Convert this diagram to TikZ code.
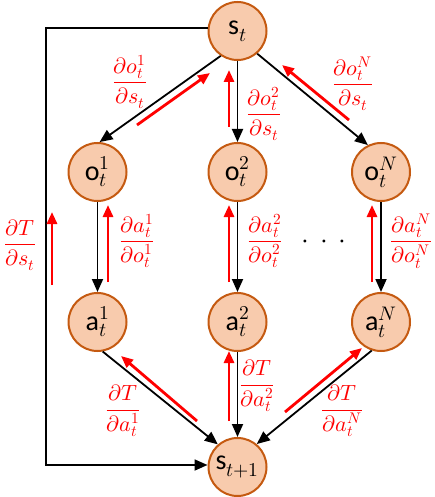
\documentclass[tikz,border=0pt]{standalone}
\usepackage{amsmath}
\usepackage{fontspec}
\usepackage{unicode-math}
\setmathfont{Latin Modern Math}
\newfontfamily\calibrifont{Carlito}
\usetikzlibrary{arrows.meta}
\definecolor{nodef}{HTML}{F8CBAD}
\definecolor{nodeb}{HTML}{C55A11}
\definecolor{gradred}{HTML}{FF0000}
\begin{document}
\begin{tikzpicture}[x=1pt,y=-1pt,
  stnode/.style={circle, draw=nodeb, fill=nodef, line width=2pt, minimum size=58pt, inner sep=0pt, font=\fontsize{28}{30}\selectfont},
  blk/.style={-{Triangle[length=13pt,width=11pt]}, line width=1.8pt, black},
  redarr/.style={-{Triangle[length=12pt,width=10pt]}, line width=2.8pt, gradred},
  lbl/.style={text=gradred, font=\fontsize{22}{24}\selectfont, inner sep=0pt}
]
\useasboundingbox (0,0) rectangle (434,497);
% nodes
\node[stnode] (s) at (237.5,31) {{\calibrifont s}$_t$};
\node[stnode] (o1) at (97.5,172) {{\calibrifont o}$_t^1$};
\node[stnode] (o2) at (237.5,172) {{\calibrifont o}$_t^2$};
\node[stnode] (oN) at (381,172) {{\calibrifont o}$_t^N$};
\node[stnode] (a1) at (97.5,322) {{\calibrifont a}$_t^1$};
\node[stnode] (a2) at (237.5,322) {{\calibrifont a}$_t^2$};
\node[stnode] (aN) at (381,322) {{\calibrifont a}$_t^N$};
\node[stnode] (s1) at (237.5,467) {{\calibrifont s}$_{t+1}$};
% black arrows
\draw[blk] (s.236) -- (o1.86);
\draw[blk] (s.south) -- (o2.north);
\draw[blk] (s.-49) -- (oN.116);
\draw[blk] (o1.south) -- (a1.north);
\draw[blk] (o2.south) -- (a2.north);
\draw[blk] (oN.south) -- (aN.north);
\draw[blk] (a1.-80) -- (s1.131);
\draw[blk] (a2.south) -- (s1.north);
\draw[blk] (aN.-108) -- (s1.50);
\coordinate (c1) at (46,28);
\coordinate (c2) at (46,465);
\draw[blk] (s.west |- c1) -- (c1) -- (c2) -- (s1.west |- c2);
% red gradient arrows
\coordinate (r1a) at (137,125); \coordinate (r1b) at (210,73);
\coordinate (r2a) at (229,127); \coordinate (r2b) at (229,70);
\coordinate (r3a) at (349,120); \coordinate (r3b) at (282,65);
\coordinate (r4a) at (108,282); \coordinate (r4b) at (108,205);
\coordinate (r5a) at (229,282); \coordinate (r5b) at (229,205);
\coordinate (r6a) at (372,282); \coordinate (r6b) at (372,205);
\coordinate (r7a) at (52,285); \coordinate (r7b) at (52,212);
\coordinate (r8a) at (197,421); \coordinate (r8b) at (121,356);
\coordinate (r9a) at (229,421); \coordinate (r9b) at (229,351);
\coordinate (r10a) at (285,412); \coordinate (r10b) at (362,348);
\foreach \i in {1,...,10} \draw[redarr] (r\i a) -- (r\i b);
% labels
\node[lbl] (l1) at (130,82) {$\dfrac{\partial o_t^1}{\partial s_t}$};
\node[lbl] (l2) at (264,114) {$\dfrac{\partial o_t^2}{\partial s_t}$};
\node[lbl] (l3) at (353,84) {$\dfrac{\partial o_t^N}{\partial s_t}$};
\node[lbl] (l4) at (20,245) {$\dfrac{\partial T}{\partial s_t}$};
\node[lbl] (l5) at (137,241) {$\dfrac{\partial a_t^1}{\partial o_t^1}$};
\node[lbl] (l6) at (265,241) {$\dfrac{\partial a_t^2}{\partial o_t^2}$};
\node[lbl] (l7) at (411,241) {$\dfrac{\partial a_t^N}{\partial o_t^N}$};
\node[lbl] (l8) at (123,411) {$\dfrac{\partial T}{\partial a_t^1}$};
\node[lbl] (l9) at (257,386) {$\dfrac{\partial T}{\partial a_t^2}$};
\node[lbl] (l10) at (342,411) {$\dfrac{\partial T}{\partial a_t^N}$};
\node[font=\fontsize{28}{30}\selectfont] (dots) at (324,244) {$\cdot\,\cdot\,\cdot$};
\end{tikzpicture}
\end{document}
